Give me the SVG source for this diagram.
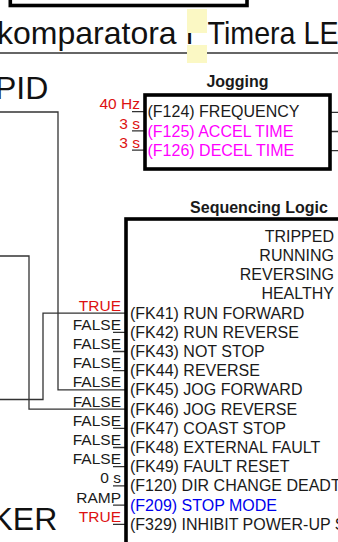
<svg xmlns="http://www.w3.org/2000/svg" width="338" height="542" viewBox="0 0 338 542">
<style>
  .big { font-family: "Liberation Sans", Arial, sans-serif; font-size: 32px; fill: #111; }
  .t { font-family: "Liberation Sans", Arial, sans-serif; font-size: 16px; fill: #1a1a1a; }
  .title { font-family: "Liberation Sans", Arial, sans-serif; font-size: 16px; font-weight: bold; fill: #1a1a1a; text-anchor: middle; }
  .lbl { font-family: "Liberation Sans", Arial, sans-serif; font-size: 15.5px; fill: #1a1a1a; text-anchor: end; }
  .red { fill: #dd1111; }
  .mag { fill: #ff00ff; }
  .blue { fill: #0000ee; }
  .out { text-anchor: end; }
  .box { fill: #fff; stroke: #000; stroke-width: 3.6; }
  .ln { fill: none; stroke: #333; stroke-width: 1.3; }
</style>
<rect width="338" height="542" fill="#fff"/>

<g id="header">
  <rect x="10.3" y="-20" width="236.7" height="25.5" fill="#fff" stroke="#000" stroke-width="3.6"/>
  <text class="big" y="44"><tspan x="-3">komparatora</tspan><tspan x="186">i</tspan><tspan x="207.5" textLength="131" lengthAdjust="spacingAndGlyphs">Timera LE</tspan></text>
  <line class="ln" x1="0" y1="53" x2="338" y2="53"/>
  <rect x="187" y="9" width="20" height="24" fill="#fbf8c4"/>
  <rect x="187" y="45" width="20" height="18" fill="#fbf8c4"/>
</g>

<g id="pid-label">
  <text class="big" x="-5" y="99">PID</text>
</g>
<g id="ker-label">
  <text class="big" x="-8.5" y="530">KER</text>
</g>

<g id="connectors">
  <path class="ln" d="M0,112 H58 V389.9 H126"/>
  <path class="ln" d="M0,256 H29 V409.1 H126"/>
  <path class="ln" d="M0,399.5 H43 V313.1 H126"/>
  <path class="ln" d="M132,111.7 H145 M132,130.9 H145 M132,150.1 H145"/>
  <path class="ln" d="M330,112.3 H338 M330,131.5 H338 M330,150.7 H338"/>
  <path class="ln" d="M113,332.3 H126 M113,351.5 H126 M113,370.7 H126 M113,428.3 H126 M113,447.5 H126 M113,466.7 H126 M113,485.9 H126 M113,505.1 H126 M113,524.3 H126"/>
</g>

<g id="jogging">
  <text class="title" x="237.5" y="87">Jogging</text>
  <rect class="box" x="145" y="95" width="185" height="74"/>
  <text class="t" x="147.5" y="117.3">(F124) FREQUENCY</text>
  <text class="t mag" x="147.5" y="136.5">(F125) ACCEL TIME</text>
  <text class="t mag" x="147.5" y="155.7">(F126) DECEL TIME</text>
  <text class="lbl red" x="140" y="109.3">40 Hz</text>
  <text class="lbl red" x="140" y="128.5">3 s</text>
  <text class="lbl red" x="140" y="147.7">3 s</text>
</g>

<g id="sequencing-logic">
  <text class="title" x="259" y="213">Sequencing Logic</text>
  <rect class="box" x="126" y="219" width="266" height="400"/>
  <text class="t out" x="334" y="241.7">TRIPPED</text>
  <text class="t out" x="334" y="260.9">RUNNING</text>
  <text class="t out" x="334" y="280.1">REVERSING</text>
  <text class="t out" x="334" y="299.3">HEALTHY</text>
  <text class="t" x="130" y="318.5">(FK41) RUN FORWARD</text>
  <text class="t" x="130" y="337.7">(FK42) RUN REVERSE</text>
  <text class="t" x="130" y="356.9">(FK43) NOT STOP</text>
  <text class="t" x="130" y="376.1">(FK44) REVERSE</text>
  <text class="t" x="130" y="395.3">(FK45) JOG FORWARD</text>
  <text class="t" x="130" y="414.5">(FK46) JOG REVERSE</text>
  <text class="t" x="130" y="433.7">(FK47) COAST STOP</text>
  <text class="t" x="130" y="452.9">(FK48) EXTERNAL FAULT</text>
  <text class="t" x="130" y="472.1">(FK49) FAULT RESET</text>
  <text class="t" x="130" y="491.3">(F120) DIR CHANGE DEADTIME</text>
  <text class="t blue" x="130" y="510.5">(F209) STOP MODE</text>
  <text class="t" x="130" y="529.7">(F329) INHIBIT POWER-UP START</text>
  <text class="lbl red" x="121" y="310.5">TRUE</text>
  <text class="lbl" x="121" y="329.7">FALSE</text>
  <text class="lbl" x="121" y="348.9">FALSE</text>
  <text class="lbl" x="121" y="368.1">FALSE</text>
  <text class="lbl" x="121" y="387.3">FALSE</text>
  <text class="lbl" x="121" y="406.5">FALSE</text>
  <text class="lbl" x="121" y="425.7">FALSE</text>
  <text class="lbl" x="121" y="444.9">FALSE</text>
  <text class="lbl" x="121" y="464.1">FALSE</text>
  <text class="lbl" x="121" y="483.3">0 s</text>
  <text class="lbl" x="121" y="502.5">RAMP</text>
  <text class="lbl red" x="121" y="521.7">TRUE</text>
</g>
</svg>
